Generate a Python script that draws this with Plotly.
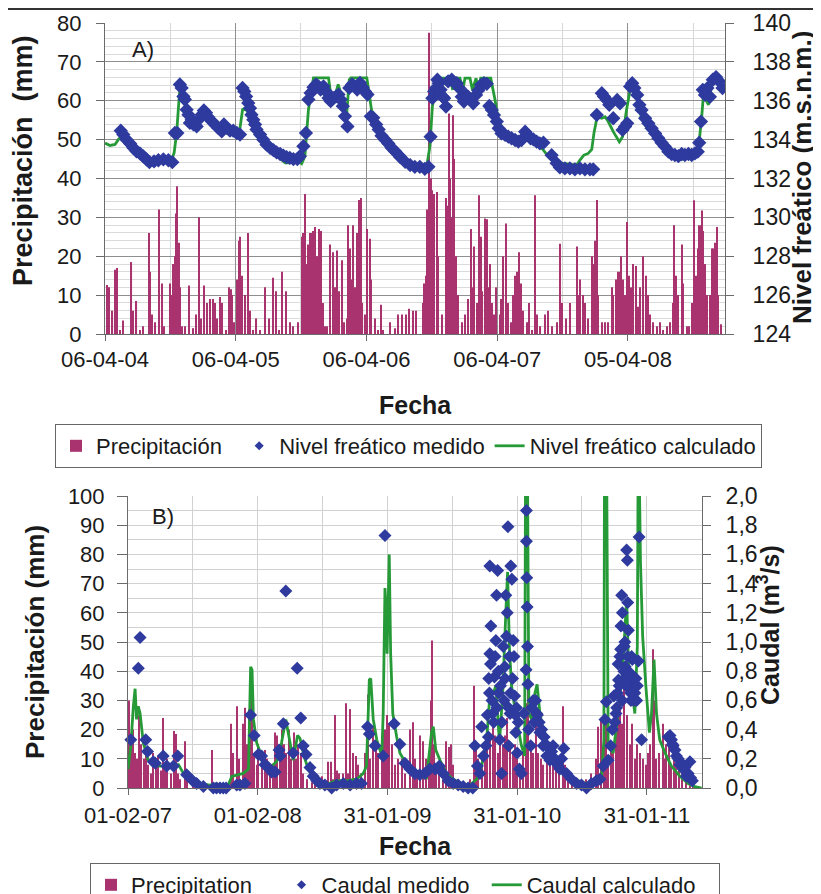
import pandas as pd
import plotly.graph_objects as go

# ---------------- time frame ----------------
START_A = "2004-04-06"
SPAN_A_DAYS = 1731
START_B = "2007-02-01"
SPAN_B_DAYS = 1615

TICKS_A_DAYS = [0, 365, 730, 1095, 1460]
TICKS_A_TEXT = ["06-04-04", "06-04-05", "06-04-06", "06-04-07", "05-04-08"]
MINOR_A_DAYS = [182, 547, 912, 1277, 1642]
TICKS_B_DAYS = [0, 365, 730, 1095, 1460]
TICKS_B_TEXT = ["01-02-07", "01-02-08", "31-01-09", "31-01-10", "31-01-11"]
MINOR_B_DAYS = [182, 547, 912, 1277]

Y1A_TICKS = list(range(0, 81, 10))
Y2A_TICKS = list(range(124, 141, 2))
Y1B_TICKS = list(range(0, 101, 10))
Y2B_TICKS = [0.0, 0.2, 0.4, 0.6, 0.8, 1.0, 1.2, 1.4, 1.6, 1.8, 2.0]
Y2B_TEXT = ["0,0", "0,2", "0,4", "0,6", "0,8", "1,0", "1,2", "1,4", "1,6", "1,8", "2,0"]

# ---------------- panel A data ----------------
PA_DAY = [7, 12, 21, 28, 33, 42, 51, 74, 79, 88, 98, 105, 123, 127, 132, 140, 152, 158, 166, 181, 186, 191, 195, 198, 202,
          207, 209, 214, 223, 235, 247, 254, 263, 268, 277, 284, 293, 301, 307, 314, 321, 328, 338, 347, 352, 355, 361, 369,
          373, 377, 383, 391, 398, 405, 414, 423, 433, 447, 459, 470, 477, 487, 493, 505, 516, 526, 540, 549, 554, 558, 563,
          568, 572, 577, 582, 586, 591, 597, 602, 608, 614, 619, 628, 636, 642, 647, 654, 661, 668, 675, 679, 684, 689, 693,
          698, 704, 710, 715, 719, 726, 731, 740, 744, 754, 761, 771, 777, 796, 810, 819,
          828, 840, 850, 859, 868, 887, 892, 896, 900, 904, 906, 910, 914, 919, 926, 931, 940, 951, 956, 960, 963, 968, 971,
          974, 980, 986, 996, 1005, 1014, 1021, 1026, 1031, 1038, 1044, 1049, 1054, 1061, 1066, 1070, 1075, 1080, 1087, 1093,
          1103, 1107, 1112, 1120, 1126, 1134, 1140, 1145, 1151, 1157, 1161, 1168, 1177, 1184, 1192, 1201, 1205, 1214, 1228,
          1238, 1247, 1261, 1270, 1277, 1287, 1298, 1317, 1321, 1326, 1334, 1340, 1349, 1359, 1363, 1368, 1373, 1377, 1387,
          1396, 1405, 1415, 1419, 1427, 1433, 1438, 1442, 1447, 1452, 1458, 1464, 1470, 1475, 1482, 1487, 1494, 1503, 1510,
          1515, 1522, 1531, 1540, 1549, 1559, 1568, 1577, 1585, 1590, 1594, 1601, 1610, 1615, 1624, 1631, 1639, 1644, 1650,
          1655, 1659, 1664, 1667, 1670, 1675, 1680, 1689, 1694, 1698, 1703, 1708, 1712, 1719]
PA_MM = [12.6, 12, 6, 16.5, 17, 1, 3.5, 18.5, 6, 8.5, 1, 2, 26, 16, 5, 3, 32, 13, 2, 13, 10, 18, 20, 31, 38,
         23.5, 12, 2, 2, 12.5, 1.5, 5, 30, 4, 12.5, 8, 9, 9, 8, 4, 9.5, 8, 1, 12, 11.5, 10, 3, 14,
         24, 25, 15, 10, 26, 6, 1, 4, 1, 12, 4, 14.5, 11, 1, 16, 11, 3, 2, 3, 25, 26, 36, 18,
         23, 26, 26, 26.5, 27.5, 20, 27, 26.5, 8, 2, 2, 23, 21, 12, 21.5, 11, 19, 3, 4, 28, 22, 14, 28,
         12, 26, 34.5, 35, 8, 5, 27, 24.5, 14, 4, 1, 7.5, 1, 3, 1.5, 5,
         5, 5, 6.5, 6, 6, 8, 13, 15, 32, 45, 77.5, 40, 37, 36, 36.5, 20, 5, 35, 33, 56.7, 40, 30, 56.3,
         45, 20, 10, 3, 5, 9, 27, 12, 22.5, 8, 35.7, 25, 11, 29.7, 29.5, 12, 18, 8, 5, 12,
         5, 9, 20, 28.4, 8, 3, 10, 15, 16, 21, 13, 6, 3, 8, 1, 35.7, 5, 2, 5,
         6, 2, 3, 23.2, 8, 4, 8, 22.5, 10, 14, 10, 8, 4, 20, 18, 24, 34.5, 10, 3,
         3, 3, 12, 10, 14, 16, 16, 20, 14, 10, 28.8, 15, 12, 18, 17.5, 7, 12, 20, 15,
         10, 5, 3, 2, 3, 1, 2, 3, 8, 28, 15, 10, 23, 13, 2, 2, 8, 34.4, 15,
         22, 28, 28, 31.8, 26.5, 18, 10, 10, 22, 22, 23.5, 27.5, 10, 2.5]

MA_DAY = [44, 51, 60, 70, 79, 88, 98, 107, 116, 124, 137, 149, 163, 177, 188, 195, 202, 209, 214, 219,
          223, 228, 233, 237, 242, 247, 256, 263, 270, 276, 282, 288, 298, 307, 316, 326, 332, 340, 349, 358,
          368, 377, 384, 389, 394, 400, 405, 409, 414, 419, 423, 433, 442, 451, 461, 470, 479, 489, 498, 507,
          516, 526, 537, 544, 554, 561, 568, 574, 582, 589, 596, 602, 610, 617, 624, 630, 637, 645, 652, 658,
          664, 670, 677, 682, 690, 697, 704, 712, 719, 726, 733, 742, 749, 757, 764, 772, 782, 791, 800, 810, 819,
          824, 838, 852, 865, 879, 893, 903, 909, 914, 919, 924, 928, 932, 937, 943, 947, 952, 958, 968, 975,
          982, 989, 996, 1002, 1008, 1014, 1021, 1028, 1036, 1042, 1050, 1058, 1066, 1073, 1080, 1086, 1094, 1099, 1107, 1117,
          1126, 1135, 1145, 1154, 1163, 1173, 1180, 1188, 1196, 1205, 1214, 1224, 1247, 1261, 1270, 1284, 1298, 1312, 1326, 1340,
          1354, 1363, 1373, 1387, 1393, 1401, 1408, 1419, 1430, 1438, 1445, 1452, 1458, 1466, 1472, 1478, 1486, 1492, 1498, 1508,
          1517, 1526, 1536, 1545, 1554, 1563, 1573, 1582, 1591, 1601, 1610, 1619, 1629, 1638, 1647, 1655, 1659, 1664, 1669, 1675,
          1682, 1689, 1697, 1706, 1715, 1724]
MA_M = [134.46, 134.26, 134.0, 133.8, 133.58, 133.4, 133.28, 133.14, 132.98, 132.84, 132.88, 132.94, 132.98, 132.94, 132.84, 134.34, 134.34, 136.84, 136.66, 136.22,
        136.06, 135.54, 135.28, 134.86, 135.02, 134.78, 134.68, 135.06, 135.28, 135.5, 135.38, 135.16, 134.94, 134.78, 134.6, 134.42, 134.78, 134.6, 134.46, 134.46,
        134.34, 134.26, 136.66, 136.48, 136.22, 135.88, 135.62, 135.28, 135.02, 134.78, 134.52, 134.26, 134.0, 133.74, 133.58, 133.46, 133.34, 133.26, 133.18, 133.1,
        133.06, 133.0, 133.0, 133.14, 133.66, 134.34, 136.06, 136.4, 136.7, 136.84, 136.74, 136.58, 136.74, 136.48, 136.14, 135.98, 136.14, 136.22, 136.32, 136.06,
        135.72, 135.2, 134.68, 136.66, 136.84, 136.74, 136.58, 136.92, 136.7, 136.48, 136.32, 135.2, 135.12, 134.78, 134.52, 134.2, 134.0, 133.8, 133.58, 133.4, 133.22,
        133.1, 132.86, 132.69, 132.6, 132.6, 132.5, 132.6, 134.15, 136.13, 136.47, 136.65, 137.08, 136.9, 136.56, 136.2, 136.13, 135.7, 137.0, 137.08, 136.94,
        136.9, 136.65, 136.2, 135.96, 136.3, 136.2, 136.04, 135.87, 136.3, 136.53, 136.82, 136.9, 136.87, 135.73, 135.53, 135.27, 134.93, 134.58, 134.32, 134.24,
        134.15, 134.07, 133.98, 133.9, 133.98, 134.41, 134.24, 134.07, 134.01, 133.9, 133.81, 133.84, 133.2, 132.78, 132.57, 132.52, 132.52, 132.47, 132.52, 132.47,
        132.47, 132.47, 135.27, 136.39, 136.22, 136.04, 135.79, 135.1, 136.04, 135.87, 134.5, 134.67, 134.84, 136.73, 136.9, 136.65, 136.3, 135.79, 135.53, 135.1,
        134.84, 134.58, 134.32, 134.07, 133.84, 133.64, 133.38, 133.26, 133.21, 133.15, 133.26, 133.21, 133.26, 133.21, 133.29, 133.38, 133.84, 134.93, 136.56, 136.3,
        136.65, 136.2, 137.08, 137.22, 137.0, 136.65]

CA_DAY = [0, 14, 28, 37, 47, 56, 70, 88, 107, 121, 130, 149, 172, 186, 193, 200, 208, 214, 221, 228,
          237, 247, 261, 270, 279, 293, 312, 330, 349, 368, 375, 384, 391, 400, 414, 433, 451, 470, 489, 503,
          516, 535, 549, 558, 568, 582, 624, 633, 642, 651, 661, 675, 682, 686, 731, 744, 758, 777, 796, 814,
          824, 842, 861, 884, 898, 907, 914, 921, 928, 963, 971, 977, 991, 999, 1005, 1019, 1026, 1036, 1042, 1049,
          1077, 1089, 1098, 1112, 1131, 1149, 1168, 1187, 1205, 1224, 1242, 1261, 1280, 1298, 1317, 1326, 1337, 1349, 1359, 1365,
          1374, 1387, 1396, 1405, 1419, 1436, 1445, 1456, 1466, 1475, 1486, 1498, 1508, 1517, 1531, 1549, 1568, 1587, 1605, 1624,
          1643, 1656, 1666, 1672, 1678, 1685, 1694, 1703, 1717, 1726]
CA_M = [133.82, 133.7, 133.75, 134.0, 134.2, 133.82, 133.57, 133.28, 133.0, 132.8, 132.94, 133.0, 133.0, 132.97, 133.32, 134.34, 136.4, 136.66, 136.06, 135.38,
        134.86, 134.78, 135.0, 135.28, 135.16, 134.94, 134.68, 134.48, 134.38, 134.26, 134.34, 135.54, 135.62, 135.38, 134.86, 134.2, 133.66, 133.34, 133.06, 132.8,
        132.8, 132.94, 132.76, 133.14, 135.54, 137.18, 137.18, 135.98, 136.22, 136.84, 136.22, 135.38, 137.08, 137.18, 137.18, 135.54, 134.86, 134.2, 133.66, 133.14,
        132.95, 132.69, 132.6, 132.55, 132.6, 133.64, 135.7, 136.39, 137.16, 137.16, 136.56, 137.16, 137.16, 136.56, 137.16, 137.16, 136.56, 137.16, 136.56, 137.16,
        137.16, 136.04, 135.01, 134.5, 134.12, 133.98, 134.01, 134.01, 133.81, 133.46, 133.03, 132.78, 132.78, 132.74, 132.69, 132.95, 133.2, 133.29, 133.5, 134.32,
        135.18, 135.1, 135.18, 134.93, 134.41, 133.89, 134.15, 135.53, 136.56, 136.9, 136.04, 135.1, 134.76, 135.01, 134.58, 133.98, 133.55, 133.12, 132.98, 133.03,
        133.12, 133.38, 135.18, 136.56, 136.04, 135.79, 136.82, 137.16, 137.08, 136.82]

# ---------------- panel B data ----------------
PB_DAY = [4, 8, 13, 20, 26, 32, 38, 45, 51, 57, 64, 71, 79, 85, 92, 98, 104, 111, 120, 129,
          134, 140, 146, 160, 167, 184, 203, 237, 245, 259, 289, 296, 306, 313, 323, 329, 334, 341, 345, 350,
          354, 362, 367, 376, 385, 392, 399, 407, 414, 420, 428, 433, 439, 446, 452, 460, 467, 473, 479, 486,
          493, 503, 517, 526, 545, 564, 571, 578, 582, 589, 595, 604, 613, 620, 626, 634, 641, 648, 657, 667,
          674, 681, 690, 698, 704, 714, 718, 723, 728, 735, 742, 751, 760,
          770, 779, 793, 801, 807, 814, 821, 829, 838, 848, 852, 856, 862, 868, 876, 885, 896, 903, 908, 915,
          929, 943, 962, 973, 979, 986, 995, 1004, 1011, 1018, 1028, 1034, 1040, 1046, 1054, 1061, 1067, 1075, 1082, 1089,
          1095, 1103, 1112, 1120, 1126, 1133, 1140, 1148, 1154, 1161, 1168, 1178, 1187, 1195, 1204, 1213, 1223, 1229, 1239, 1248,
          1262, 1276, 1290, 1304, 1316, 1323, 1332, 1339, 1345, 1351, 1358, 1365, 1373, 1379, 1384, 1389, 1395, 1403, 1412, 1419,
          1426, 1433, 1440, 1448, 1457, 1464, 1470, 1476, 1481, 1487, 1495, 1504, 1511, 1515, 1523, 1529, 1536, 1543, 1551, 1560,
          1570, 1581, 1590]
PB_MM = [30, 18, 20, 12, 10, 25, 15, 10, 13, 8, 5, 12, 8, 11, 6, 24, 8, 10, 5, 19.5,
         18.5, 5, 3, 16, 6, 2, 1, 13, 1, 2, 22, 12, 28, 10, 22, 27.5, 15, 27, 35, 30,
         12, 8, 15, 10, 13, 10, 7, 8, 19, 18, 15, 20, 15, 12, 20, 10, 19, 10, 15, 12,
         5, 3, 2, 2, 4, 9, 9, 3, 25, 6, 5, 5, 29, 5, 27, 12, 11, 8, 5, 12,
         32, 10, 21, 15, 12, 15, 32, 20, 25, 22, 15, 8, 10,
         10, 5, 20, 22.5, 10, 6, 18, 16, 10, 12, 30, 50.5, 15, 5, 8, 3, 16, 14, 15, 8,
         3, 2, 3, 35, 15, 10, 12, 15, 20, 17, 25, 18, 12, 22, 15, 18, 24, 15, 12, 15,
         10, 8, 12, 29, 35, 15, 12, 22, 12, 10, 8, 15, 8, 10, 7, 5, 28, 8, 5, 3,
         2, 2, 3, 5, 10, 21, 23, 48, 25, 10, 15, 12, 20, 25, 30, 22, 35, 25, 15, 22,
         10, 15, 12, 10, 8, 12, 15, 47.5, 30, 10, 12, 22, 10, 15, 18, 8, 10, 8, 10, 5,
         3, 3, 2]

MB_DAY = [8, 29, 34, 50, 55, 71, 77, 99, 109, 128, 140, 165, 182, 193, 212, 240, 249, 259, 268, 276,
          306, 315, 329, 345, 355, 367, 376, 385, 395, 404, 414, 425, 428, 437, 444, 465, 476, 486, 493, 501,
          512, 521, 531, 540, 554, 573, 587, 606, 625, 643, 657, 674, 679, 695, 718, 723, 749,
          765, 779, 793, 807, 821, 835, 849, 864, 876, 887, 901, 915, 929, 943, 957, 970, 976, 983, 990, 995,
          1000, 1007, 1014, 1017, 1018, 1021, 1018, 1026, 1031, 1035, 1037, 1040, 1043, 1046, 1051, 1056, 1060, 1063, 1065, 1067,
          1069, 1071, 1075, 1077, 1080, 1084, 1088, 1091, 1095, 1101, 1107, 1114, 1120, 1121, 1121, 1122, 1123, 1124, 1125, 1127,
          1133, 1140, 1150, 1159, 1168, 1178, 1187, 1196, 1206, 1215, 1226, 1234, 1248, 1262, 1276, 1290, 1304, 1318, 1328, 1337,
          1342, 1346, 1351, 1358, 1363, 1367, 1373, 1377, 1380, 1384, 1387, 1389, 1391, 1393, 1396, 1399, 1403, 1405, 1406, 1408,
          1410, 1412, 1415, 1419, 1421, 1426, 1431, 1436, 1438, 1445, 1525, 1529, 1534, 1543, 1553, 1562, 1571, 1581, 1588,
          1011, 1015, 1020, 1024, 1029, 1033, 1038, 1042, 1048, 1052, 1058, 1061, 1071, 1073, 1076, 1082, 1086, 1090, 1093, 1098,
          1370, 1375, 1379, 1382, 1386, 1391, 1395, 1398, 1401, 1406, 1409, 1414, 1417, 1423, 1429, 1433,
          1136, 1143, 1147, 1152, 1157, 1164, 1171, 1175, 1182, 1192, 1201, 1211, 1220,
          1520, 1527, 1532, 1539, 1548, 1558, 1567, 1576, 1583]
MB_Q = [0.33, 0.82, 1.03, 0.33, 0.25, 0.18, 0.17, 0.22, 0.15, 0.15, 0.22, 0.09, 0.05, 0.03, 0.01, 0.0, 0.0, 0.0, 0.0, 0.0,
        0.02, 0.02, 0.03, 0.5, 0.36, 0.23, 0.22, 0.16, 0.14, 0.11, 0.11, 0.26, 0.22, 0.44, 1.35, 0.24, 0.82, 0.48, 0.29, 0.23,
        0.14, 0.08, 0.05, 0.03, 0.02, 0.0, 0.02, 0.03, 0.02, 0.03, 0.03, 0.42, 0.37, 0.29, 0.22, 1.73, 0.44,
        0.30, 0.17, 0.13, 0.10, 0.09, 0.10, 0.13, 0.13, 0.15, 0.10, 0.05, 0.03, 0.02, 0.01, 0.0, 0.0, 0.29, 0.15, 0.10, 0.42,
        0.22, 0.29, 0.35, 0.65, 0.92, 1.11, 1.52, 0.51, 0.76, 1.01, 1.32, 1.49, 0.65, 0.33, 0.10, 0.97, 0.83, 1.32, 1.04, 1.2,
        1.79, 0.29, 0.51, 1.52, 1.43, 1.01, 0.63, 0.38, 0.24, 0.13, 0.10, 0.51, 0.81, 1.9, 1.69, 1.44, 1.24, 0.97, 0.71, 0.40,
        0.29, 0.6, 0.51, 0.38, 0.29, 0.22, 0.19, 0.29, 0.17, 0.13, 0.27, 0.10, 0.06, 0.03, 0.02, 0.0, 0.03, 0.05, 0.06, 0.15,
        0.47, 0.59, 0.19, 0.29, 0.40, 0.63, 0.51, 0.65, 0.74, 0.9, 1.11, 1.32, 1.2, 0.74, 0.97, 0.83, 1.63, 1.56, 1.27, 1.08,
        0.7, 0.79, 0.6, 0.88, 0.74, 0.65, 0.6, 0.87, 1.72, 0.33, 0.36, 0.33, 0.29, 0.22, 0.16, 0.13, 0.08, 0.18, 0.05,
        0.5, 0.75, 0.85, 0.6, 0.45, 0.9, 0.55, 0.8, 0.7, 0.45, 0.6, 0.75, 0.55, 0.9, 0.65, 0.75, 0.9, 0.5, 0.55, 0.45,
        0.45, 0.55, 0.85, 0.7, 0.95, 0.6, 0.8, 1.0, 0.7, 0.9, 0.75, 0.65, 0.9, 0.6, 0.75, 0.7,
        0.55, 0.45, 0.6, 0.5, 0.45, 0.4, 0.35, 0.3, 0.28, 0.25, 0.2, 0.15, 0.2,
        0.35, 0.33, 0.3, 0.26, 0.2, 0.17, 0.14, 0.1, 0.07]

CB_DAY = [0, 8, 15, 20, 24, 29, 34, 43, 57, 71, 90, 109, 128, 142, 156, 174, 203, 231, 249, 263,
          282, 292, 306, 324, 339, 345, 349, 353, 362, 376, 390, 404, 418, 432, 444, 456, 465, 477, 484, 495,
          507, 521, 540, 564, 587, 615, 643, 662, 671, 679, 683, 690, 700, 714, 718, 723, 726, 729, 735, 739,
          745, 756,
          765, 784, 803, 821, 840, 854, 859, 866, 878, 896, 915, 939, 962, 981, 995, 1009, 1018, 1028, 1035, 1045,
          1054, 1063, 1068, 1073, 1079, 1093, 1107, 1116, 1119, 1123, 1128, 1136, 1145, 1151, 1159, 1173, 1187, 1206, 1225, 1243,
          1267, 1290, 1318, 1332, 1339, 1341, 1346, 1351, 1365, 1379, 1391, 1403, 1408, 1417, 1426, 1433, 1436, 1442, 1448, 1457,
          1467, 1473, 1480, 1487, 1496, 1511, 1529, 1553, 1576, 1595, 1614]
CB_Q = [0.13, 0.29, 0.56, 0.68, 0.47, 0.56, 0.51, 0.31, 0.19, 0.16, 0.15, 0.15, 0.15, 0.16, 0.10, 0.06, 0.03, 0.02, 0.03, 0.02,
        0.02, 0.08, 0.09, 0.10, 0.13, 0.83, 0.81, 0.47, 0.31, 0.22, 0.16, 0.15, 0.18, 0.31, 0.47, 0.31, 0.19, 0.36, 0.34, 0.22,
        0.13, 0.07, 0.04, 0.03, 0.05, 0.05, 0.06, 0.10, 0.15, 0.74, 0.75, 0.47, 0.33, 0.22, 0.51, 1.37, 1.24, 0.92, 1.6, 0.92,
        0.51, 0.35,
        0.24, 0.16, 0.10, 0.08, 0.07, 0.38, 0.42, 0.26, 0.19, 0.10, 0.06, 0.03, 0.02, 0.06, 0.15, 0.33, 0.63, 0.65, 0.7, 0.31,
        0.63, 1.2, 1.48, 0.97, 0.7, 0.47, 0.29, 0.22, 2.6, 2.6, 0.51, 0.47, 0.65, 0.71, 0.51, 0.33, 0.24, 0.16, 0.10, 0.07,
        0.05, 0.03, 0.03, 0.06, 0.33, 2.6, 2.6, 0.29, 0.24, 0.51, 0.79, 1.29, 0.86, 0.7, 0.51, 0.97, 2.6, 1.54, 1.04, 0.7,
        0.38, 0.51, 0.88, 0.51, 0.33, 0.24, 0.15, 0.08, 0.03, 0.01, 0.0]

# ---------------- style ----------------
W, H = 821, 894
OFF = 8  # the page body margin shifts the figure by 8 px right and down
FONT = "Arial, 'Liberation Sans', sans-serif"
BAR_COLOR = "#A8336E"
BLUE = "#2E3A9E"
GREEN = "#279A38"
TXT = "#1a1a1a"
AXIS = "#6b6b6b"
BAR_W_MS = 3 * 86400000
NB = "\u00a0"


def dates(start, days):
    return pd.Timestamp(start) + pd.to_timedelta(days, unit="D")


def px_x(p):
    return (p - OFF) / W


def px_y(p):
    return (H - (p - OFF)) / H


fig = go.Figure()

# Panel A
fig.add_trace(go.Bar(x=dates(START_A, PA_DAY), y=PA_MM, width=BAR_W_MS,
                     marker=dict(color=BAR_COLOR, line=dict(width=0)),
                     name="Precipitación" + NB * 2, xaxis="x", yaxis="y", legend="legend", legendrank=1))
fig.add_trace(go.Scatter(x=dates(START_A, CA_DAY), y=CA_M, mode="lines",
                         line=dict(color=GREEN, width=2.8),
                         name="Nivel freático calculado", xaxis="x", yaxis="y2", legend="legend", legendrank=3))
fig.add_trace(go.Scatter(x=dates(START_A, MA_DAY), y=MA_M, mode="markers",
                         marker=dict(symbol="diamond", size=11, color=BLUE), showlegend=False,
                         name="Nivel freático medido", xaxis="x", yaxis="y2"))
# legend entry (small diamond, as in the original legend)
fig.add_trace(go.Scatter(x=[None], y=[None], mode="markers",
                         marker=dict(symbol="diamond", size=7, color=BLUE),
                         name="Nivel freático medido", xaxis="x", yaxis="y2", legend="legend", legendrank=2))

# Panel B
fig.add_trace(go.Bar(x=dates(START_B, PB_DAY), y=PB_MM, width=BAR_W_MS,
                     marker=dict(color=BAR_COLOR, line=dict(width=0)),
                     name="Precipitation" + NB * 4, xaxis="x2", yaxis="y3", legend="legend2", legendrank=1))
fig.add_trace(go.Scatter(x=dates(START_B, CB_DAY), y=CB_Q, mode="lines",
                         line=dict(color=GREEN, width=2.8),
                         name="Caudal calculado" + NB * 3, xaxis="x2", yaxis="y4", legend="legend2", legendrank=3))
fig.add_trace(go.Scatter(x=dates(START_B, MB_DAY), y=MB_Q, mode="markers", cliponaxis=False,
                         marker=dict(symbol="diamond", size=10, color=BLUE), showlegend=False,
                         name="Caudal medido", xaxis="x2", yaxis="y4"))
fig.add_trace(go.Scatter(x=[None], y=[None], mode="markers",
                         marker=dict(symbol="diamond", size=7, color=BLUE),
                         name="Caudal medido" + NB * 2, xaxis="x2", yaxis="y4", legend="legend2", legendrank=2))

common_x = dict(type="date", tickmode="array", ticks="outside", ticklen=6, tickcolor=AXIS,
                showline=True, linecolor=AXIS, linewidth=1, zeroline=False, showgrid=True, gridwidth=1)
common_y = dict(ticks="outside", ticklen=8, tickcolor=AXIS, showline=True, linecolor=AXIS,
                linewidth=1, zeroline=False, tickmode="array")

fig.update_layout(
    width=W, height=H, margin=dict(l=0, r=0, t=0, b=0, autoexpand=False),
    paper_bgcolor="white", plot_bgcolor="white", font=dict(family=FONT, color=TXT),
    showlegend=True, barmode="overlay",
    xaxis=dict(common_x, domain=[px_x(105), px_x(725)], anchor="y",
               range=[dates(START_A, 0), dates(START_A, SPAN_A_DAYS)],
               tickvals=list(dates(START_A, TICKS_A_DAYS)), ticktext=TICKS_A_TEXT,
               gridcolor="#8f8f8f", tickfont=dict(size=22, color=TXT), ticklabelstandoff=0,
               minor=dict(tickmode="array", tickvals=list(dates(START_A, MINOR_A_DAYS)),
                          showgrid=True, gridcolor="#d6d6d6", ticks="")),
    yaxis=dict(common_y, domain=[px_y(334), px_y(23)], anchor="x", range=[0, 80],
               tickvals=Y1A_TICKS, showgrid=True, gridcolor="#8f8f8f",
               tickfont=dict(size=22, color=TXT), ticklabelstandoff=10,
               minor=dict(tickmode="linear", tick0=0, dtick=2, showgrid=True, gridcolor="#dadada", ticks="")),
    yaxis2=dict(common_y, overlaying="y", side="right", anchor="x", range=[124, 140],
                tickvals=Y2A_TICKS, showgrid=False, tickfont=dict(size=23, color=TXT), ticklabelstandoff=14),
    xaxis2=dict(common_x, domain=[px_x(128), px_x(702)], anchor="y3",
                range=[dates(START_B, 0), dates(START_B, SPAN_B_DAYS)],
                tickvals=list(dates(START_B, TICKS_B_DAYS)), ticktext=TICKS_B_TEXT,
                gridcolor="#d2d2d2", tickfont=dict(size=22, color=TXT), ticklabelstandoff=2,
                minor=dict(tickmode="array", tickvals=list(dates(START_B, MINOR_B_DAYS)),
                           showgrid=True, gridcolor="#d2d2d2", ticks="")),
    yaxis3=dict(common_y, domain=[px_y(788), px_y(496)], anchor="x2", range=[0, 100],
                tickvals=Y1B_TICKS, showgrid=True, gridcolor="#d2d2d2", ticklen=10,
                tickfont=dict(size=22, color=TXT), ticklabelstandoff=8,
                minor=dict(tickmode="linear", tick0=0, dtick=5, showgrid=True, gridcolor="#d2d2d2", ticks="")),
    yaxis4=dict(common_y, overlaying="y3", side="right", anchor="x2", range=[0, 2.0],
                tickvals=Y2B_TICKS, ticktext=Y2B_TEXT, showgrid=False,
                tickfont=dict(size=23, color=TXT), ticklabelstandoff=10),
    legend=dict(orientation="h", x=px_x(55), y=px_y(424), xanchor="left", yanchor="top",
                bordercolor="#666", borderwidth=1, bgcolor="white", font=dict(size=22, color=TXT),
                itemsizing="trace", itemwidth=30, tracegroupgap=0),
    legend2=dict(orientation="h", x=px_x(90), y=px_y(863), xanchor="left", yanchor="top",
                 bordercolor="#666", borderwidth=1, bgcolor="white", font=dict(size=22, color=TXT),
                 itemsizing="trace", itemwidth=30, tracegroupgap=0),
)

ann = [
    dict(text="A)", x=px_x(130), y=px_y(49), xanchor="left", yanchor="middle", font=dict(size=22)),
    dict(text="B)", x=px_x(150), y=px_y(517), xanchor="left", yanchor="middle", font=dict(size=22)),
    dict(text="<b>Fecha</b>", x=px_x(415), y=px_y(405), xanchor="center", yanchor="middle", font=dict(size=25)),
    dict(text="<b>Fecha</b>", x=px_x(415), y=px_y(846), xanchor="center", yanchor="middle", font=dict(size=25)),
    dict(text="<b>Precipitación  (mm)</b>", x=px_x(23), y=px_y(161), textangle=-90,
         xanchor="center", yanchor="middle", font=dict(size=27)),
    dict(text="<b>Nivel freático (m.s.n.m.)</b>", x=px_x(802), y=px_y(178), textangle=-90,
         xanchor="center", yanchor="middle", font=dict(size=26)),
    dict(text="<b>Precipitación (mm)</b>", x=px_x(35), y=px_y(642), textangle=-90,
         xanchor="center", yanchor="middle", font=dict(size=26)),
    dict(text="<b>Caudal (m<sup>3</sup>/s)</b>", x=px_x(768), y=px_y(625), textangle=-90,
         xanchor="center", yanchor="middle", font=dict(size=25)),
]
for a in ann:
    a.update(xref="paper", yref="paper", showarrow=False)
    a["font"] = dict(a["font"], family=FONT, color=TXT)
fig.update_layout(annotations=ann)

# thin dark rule along the very top edge (edge of the preceding figure)
fig.add_shape(type="line", xref="paper", yref="paper", x0=0, x1=1, y0=px_y(9), y1=px_y(9),
              line=dict(color="#333", width=2))

fig.write_html("out.html")
